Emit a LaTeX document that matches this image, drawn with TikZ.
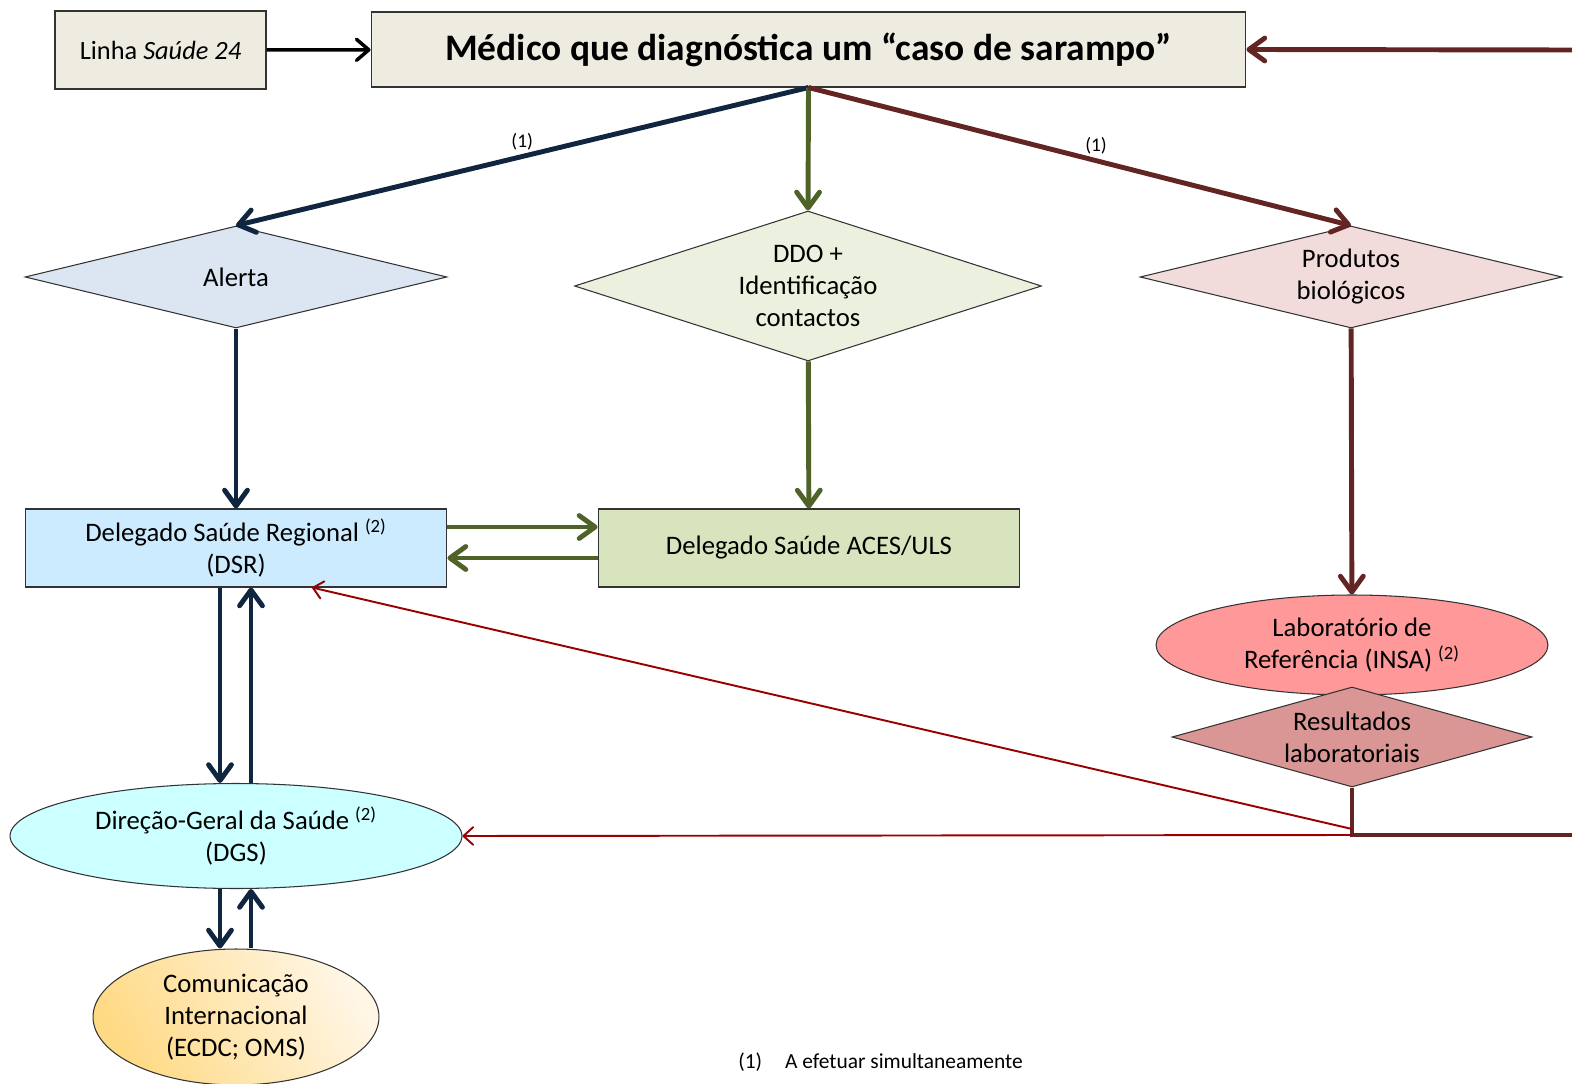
\documentclass[tikz,border=0pt]{standalone}
\usepackage{fontspec}
\setmainfont{Carlito}
\usepackage{tikz}
\usetikzlibrary{calc,arrows.meta,shapes.geometric}
\definecolor{beige}{HTML}{EEECE1}
\definecolor{navy}{HTML}{10253F}
\definecolor{olive}{HTML}{4F6228}
\definecolor{wine}{HTML}{632523}
\definecolor{blood}{HTML}{990000}
\definecolor{alertfill}{HTML}{DCE6F2}
\definecolor{ddofill}{HTML}{EBF1DE}
\definecolor{prodfill}{HTML}{F2DCDB}
\definecolor{dsrfill}{HTML}{CCEBFF}
\definecolor{acesfill}{HTML}{D7E4BD}
\definecolor{labfill}{HTML}{FF9999}
\definecolor{resfill}{HTML}{D99694}
\definecolor{dgsfill}{HTML}{CCFFFF}
\definecolor{comA}{HTML}{FFDA85}
\definecolor{comB}{HTML}{FFF6E6}
\tikzset{
  txt/.style={font=\fontsize{15.2}{18.2}\selectfont, align=center},
  box/.style={txt, draw=black!80, line width=0.6pt, inner sep=0pt},
  dia/.style={txt, diamond, draw=black!80, line width=0.6pt, inner sep=0pt},
  ell/.style={txt, ellipse, draw=black!80, line width=0.6pt, inner sep=0pt},
  blk/.style={draw=black, line width=2pt, -{Straight Barb[round,length=7pt,width=12pt]}},
  navyarr/.style={draw=navy, line width=2.8pt, -{Straight Barb[round,length=9pt,width=13pt]}},
  olivearr/.style={draw=olive, line width=2.8pt, -{Straight Barb[round,length=9pt,width=13pt]}},
  winearr/.style={draw=wine, line width=2.8pt, -{Straight Barb[round,length=9pt,width=13pt]}},
  wineline/.style={draw=wine, line width=2.8pt},
  bloodarr/.style={draw=blood, line width=1.1pt, -{Straight Barb[round,length=5.5pt,width=10pt]}},
  lab/.style={font=\fontsize{11}{13}\selectfont, inner sep=2pt},
}

\begin{document}
\begin{tikzpicture}[x=0.02cm, y=-0.02cm]
  \useasboundingbox (0,0) rectangle (1572,1084);

  % nodes
  \node[box, fill=beige, minimum width=4.22cm, minimum height=1.56cm,
        font=\fontsize{15}{18}\selectfont] (linha) at (160.5,50) {Linha \textit{Saúde 24}};
  \node[box, fill=beige, minimum width=17.5cm, minimum height=1.5cm,
        font=\fontsize{21.3}{25}\selectfont\bfseries] (medico) at (808.5,49.5) {Médico que diagnóstica um “caso de sarampo”};
  \node[dia, fill=alertfill, shape aspect=4.1, minimum width=8.44cm, minimum height=2.04cm] (alerta) at (236,277) {Alerta};
  \node[dia, fill=ddofill, shape aspect=3.1, minimum width=9.34cm, minimum height=3cm] (ddo) at (808,286) {DDO +\\Identificação\\contactos};
  \node[dia, fill=prodfill, shape aspect=4.1, minimum width=8.44cm, minimum height=2.04cm] (prod) at (1351,277) {Produtos\\biológicos};
  \node[box, fill=dsrfill, minimum width=8.44cm, minimum height=1.56cm] (dsr) at (236,548) {Delegado Saúde Regional \textsuperscript{(2)}\\(DSR)};
  \node[box, fill=acesfill, minimum width=8.44cm, minimum height=1.56cm] (aces) at (809,548) {Delegado Saúde ACES/ULS};
  \node[ell, fill=labfill, minimum width=7.84cm, minimum height=2cm] (lab) at (1352,645) {Laboratório de\\Referência (INSA) \textsuperscript{(2)}};
  \node[dia, fill=resfill, shape aspect=3.6, minimum width=7.2cm, minimum height=2cm] (res) at (1352,737) {Resultados\\laboratoriais};
  \node[ell, fill=dgsfill, minimum width=9.04cm, minimum height=2.1cm] (dgs) at (236,836) {Direção-Geral da Saúde \textsuperscript{(2)}\\(DGS)};
  \node[ell, left color=comA, right color=comB, shading angle=120, minimum width=5.72cm, minimum height=2.72cm] (com) at (236,1017) {Comunicação\\Internacional\\(ECDC; OMS)};
  \node[anchor=west, font=\fontsize{12.2}{14}\selectfont, inner sep=0pt] (nota) at (738,1062) {(1)\hspace{13pt}A efetuar simultaneamente};

  \coordinate (in) at (1572,50);
  \coordinate (out) at (1572,835);
  \coordinate (corner) at (1352,835);
  \coordinate (kink) at (1352,829);

  % connectors
  \draw[blk] (linha) -- (medico);
  \draw[winearr] (in) -- (medico.east);
  \draw[navyarr] (medico.south) -- node[lab, above] {(1)} (alerta.north);
  \draw[olivearr] (medico.south) -- (ddo.north);
  \draw[winearr] (medico.south) -- node[lab, above, pos=0.53] {(1)} (prod.north);
  \draw[navyarr] (alerta) -- (dsr);
  \draw[olivearr] (ddo) -- (aces);
  \draw[winearr] (prod) -- (lab);
  \draw[olivearr] ($(dsr.east)+(0,-21)$) -- ($(aces.west)+(0,-21)$);
  \draw[olivearr] ($(aces.west)+(0,10)$) -- ($(dsr.east)+(0,10)$);
  \draw[navyarr] ($(dsr.south)+(-16,0)$) -- ($(dgs.north)+(-16,0)$);
  \draw[navyarr] ($(dgs.north)+(15,0)$) -- ($(dsr.south)+(15,0)$);
  \draw[navyarr] ($(dgs.south)+(-16,0)$) -- ($(com.north)+(-16,0)$);
  \draw[navyarr] ($(com.north)+(15,0)$) -- ($(dgs.south)+(15,0)$);
  \draw[wineline] (res.south) -- (corner) -- (out);
  \draw[bloodarr] (kink) -- ($(dsr.south)+(76,0)$);
  \draw[bloodarr] (corner) -- (dgs.east);
\end{tikzpicture}
\end{document}
